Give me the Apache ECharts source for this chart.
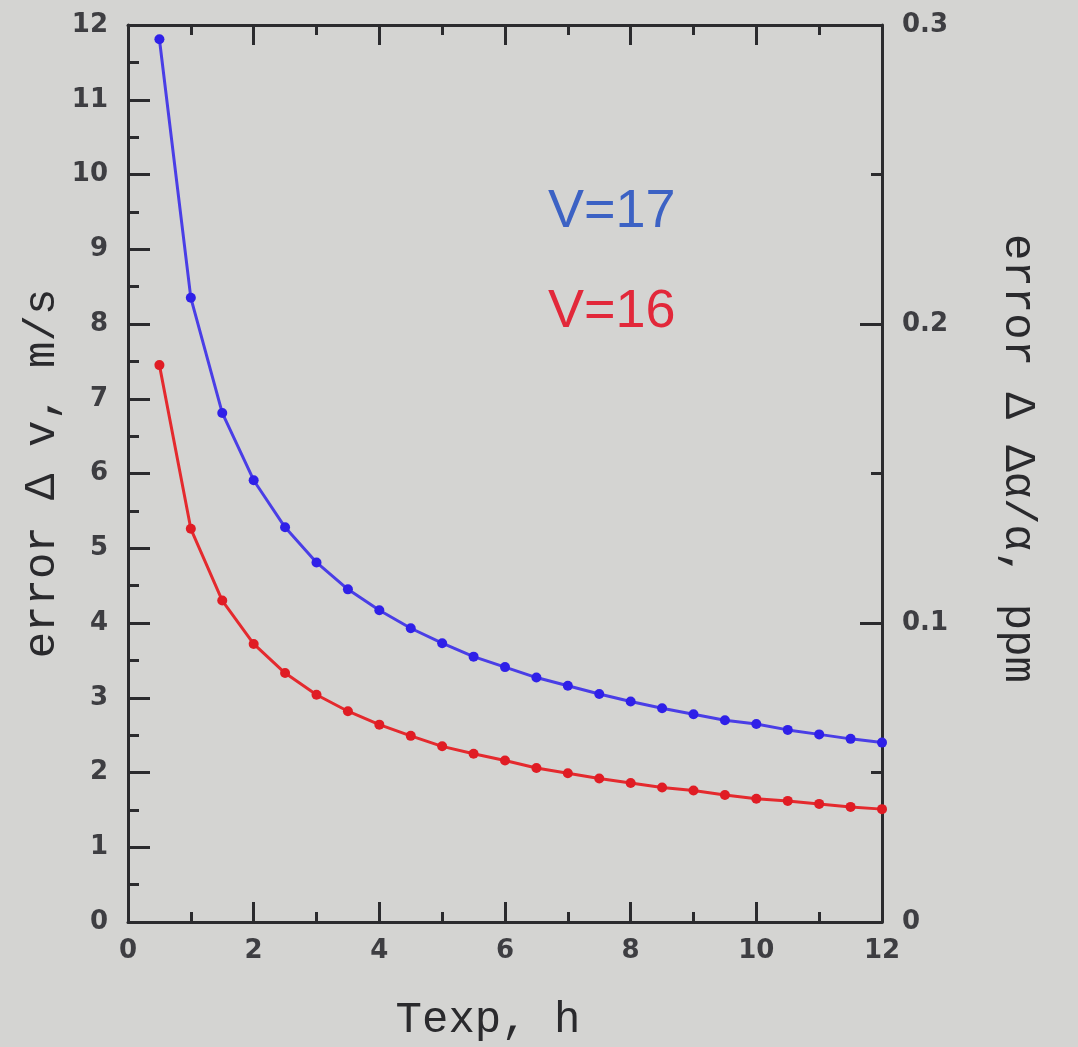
<!DOCTYPE html>
<html>
<head>
<meta charset="utf-8">
<title>Error vs exposure time</title>
<script src="https://cdn.jsdelivr.net/npm/echarts@6/dist/echarts.min.js"></script>
<style>
  html, body { margin: 0; padding: 0; background: #d4d4d2; }
  #chart { width: 1078px; height: 1047px; }
</style>
</head>
<body>
<div id="chart"></div>
<script>
// Exposure time, hours
const texp = [0.5, 1, 1.5, 2, 2.5, 3, 3.5, 4, 4.5, 5, 5.5, 6, 6.5, 7, 7.5, 8, 8.5, 9, 9.5, 10, 10.5, 11, 11.5, 12];
// Velocity error, m/s, for V=17
const errV17 = [11.81, 8.35, 6.81, 5.91, 5.28, 4.81, 4.45, 4.17, 3.93, 3.73, 3.55, 3.41, 3.27, 3.16, 3.05, 2.95, 2.86, 2.78, 2.70, 2.65, 2.57, 2.51, 2.45, 2.40];
// Velocity error, m/s, for V=16
const errV16 = [7.45, 5.26, 4.30, 3.72, 3.33, 3.04, 2.82, 2.64, 2.49, 2.35, 2.25, 2.16, 2.06, 1.99, 1.92, 1.86, 1.80, 1.76, 1.70, 1.65, 1.62, 1.58, 1.54, 1.51];

const xTicks = [0, 2, 4, 6, 8, 10, 12];
const leftTicks = [0, 1, 2, 3, 4, 5, 6, 7, 8, 9, 10, 11, 12];
const rightTicks = [0, 0.1, 0.2, 0.3];

const ink = '#2b2b2e';
const frame = { show: true, onZero: false, lineStyle: { color: ink, width: 3 } };
const tickFont = { fontFamily: 'DejaVu Sans', fontSize: 26, fontWeight: 'bold', color: '#3e3e42' };
const titleFont = { fontFamily: 'Liberation Mono', fontSize: 44, color: '#2a2a2d' };

const chart = echarts.init(document.getElementById('chart'), null, { renderer: 'canvas' });

chart.setOption({
  backgroundColor: '#d4d4d2',
  animation: false,
  grid: { left: 128, right: 196, top: 25, bottom: 125, containLabel: false },
  xAxis: [
    {
      type: 'value', position: 'bottom',
      min: xTicks[0], max: xTicks[xTicks.length - 1], interval: 2,
      name: 'Texp, h', nameLocation: 'middle', nameGap: 76,
      nameTextStyle: Object.assign({ padding: [0, 34, 0, 0] }, titleFont),
      axisLine: frame,
      axisTick: { inside: true, length: 20, lineStyle: { color: ink, width: 3 } },
      minorTick: { show: true, splitNumber: 2, length: 10, lineStyle: { color: ink, width: 3 } },
      axisLabel: Object.assign({ margin: 16 }, tickFont),
      splitLine: { show: false }
    },
    {
      type: 'value', position: 'top',
      min: xTicks[0], max: xTicks[xTicks.length - 1], interval: 2,
      axisLine: frame,
      axisTick: { inside: true, length: 20, lineStyle: { color: ink, width: 3 } },
      minorTick: { show: true, splitNumber: 2, length: 10, lineStyle: { color: ink, width: 3 } },
      axisLabel: { show: false },
      splitLine: { show: false }
    }
  ],
  yAxis: [
    {
      type: 'value', position: 'left',
      min: leftTicks[0], max: leftTicks[leftTicks.length - 1], interval: 1,
      name: 'error \u0394 v, m/s', nameLocation: 'middle', nameGap: 64, nameRotate: 90,
      nameMoveOverlap: false,
      nameTextStyle: titleFont,
      axisLine: frame,
      axisTick: { inside: true, length: 22, lineStyle: { color: ink, width: 3 } },
      minorTick: { show: true, splitNumber: 2, length: 11, lineStyle: { color: ink, width: 3 } },
      axisLabel: Object.assign({ margin: 20 }, tickFont),
      splitLine: { show: false }
    },
    {
      type: 'value', position: 'right',
      min: rightTicks[0], max: rightTicks[rightTicks.length - 1], interval: 0.1,
      name: 'error \u0394 \u0394\u03b1/\u03b1, ppm', nameLocation: 'middle', nameGap: 114, nameRotate: -90,
      nameTextStyle: Object.assign({ padding: [0, 30, 0, 0] }, titleFont),
      axisLine: frame,
      axisTick: { inside: true, length: 22, lineStyle: { color: ink, width: 3 } },
      minorTick: { show: true, splitNumber: 2, length: 11, lineStyle: { color: ink, width: 3 } },
      axisLabel: Object.assign({ margin: 20, formatter: v => String(+v.toFixed(2)) }, tickFont),
      splitLine: { show: false }
    }
  ],
  series: [
    {
      name: 'V=17', type: 'line', xAxisIndex: 0, yAxisIndex: 0,
      data: texp.map((t, i) => [t, errV17[i]]),
      symbol: 'circle', symbolSize: 10, showSymbol: true,
      lineStyle: { color: '#4a3ee6', width: 3 },
      itemStyle: { color: '#2f20e8' }
    },
    {
      name: 'V=16', type: 'line', xAxisIndex: 0, yAxisIndex: 0,
      data: texp.map((t, i) => [t, errV16[i]]),
      symbol: 'circle', symbolSize: 10, showSymbol: true,
      lineStyle: { color: '#e42a2e', width: 3 },
      itemStyle: { color: '#e01c24' }
    }
  ],
  graphic: [
    {
      type: 'text', left: 548, top: 185,
      style: { text: 'V=17', fontFamily: 'Liberation Sans', fontSize: 54, fill: '#3c62c4' }
    },
    {
      type: 'text', left: 548, top: 285,
      style: { text: 'V=16', fontFamily: 'Liberation Sans', fontSize: 54, fill: '#e2283a' }
    }
  ]
});
</script>
</body>
</html>
